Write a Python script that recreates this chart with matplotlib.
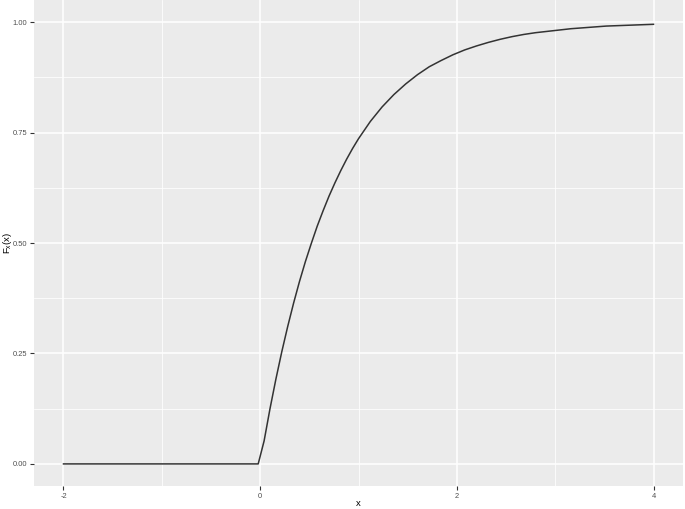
import numpy as np
import matplotlib
matplotlib.use('Agg')
import matplotlib.pyplot as plt
from matplotlib.ticker import MultipleLocator

plt.rcParams['font.family'] = ['Liberation Sans', 'DejaVu Sans']

# values (x, F_x(x))
x_vals = [-2.0, -0.02, 0.04, 0.10, 0.16, 0.22, 0.28, 0.34, 0.40, 0.46, 0.52, 0.58,
          0.64, 0.70, 0.76, 0.82, 0.88, 0.94, 1.00, 1.12, 1.24, 1.36, 1.48, 1.60,
          1.72, 1.84, 1.96, 2.08, 2.20, 2.32, 2.44, 2.56, 2.68, 2.80, 2.92, 3.04,
          3.16, 3.28, 3.40, 3.52, 3.64, 3.76, 3.88, 4.00]
f_vals = [0.0, 0.0, 0.052, 0.125, 0.192, 0.254, 0.311, 0.364, 0.413, 0.458, 0.499, 0.538,
          0.573, 0.606, 0.636, 0.664, 0.690, 0.714, 0.736, 0.775, 0.808, 0.836, 0.860, 0.881,
          0.899, 0.913, 0.926, 0.937, 0.946, 0.954, 0.961, 0.967, 0.972, 0.976, 0.979, 0.982,
          0.985, 0.987, 0.989, 0.991, 0.992, 0.993, 0.994, 0.995]

x_ticks = [-2, 0, 2, 4]
y_ticks = [0.0, 0.25, 0.5, 0.75, 1.0]
y_ticklabels = ['0.00', '0.25', '0.50', '0.75', '1.00']

fig = plt.figure(figsize=(6.85, 5.09), dpi=100)
ax = fig.add_axes([34/685, 23/509, 649/685, 486/509])
ax.set_facecolor('#EBEBEB')

ax.plot(x_vals, f_vals, color='#333333', lw=1.1, zorder=3)

ax.set_xlim(-2.3, 4.3)
ax.set_ylim(-0.05, 1.05)
ax.set_xticks(x_ticks)
ax.set_xticklabels([str(t) for t in x_ticks])
ax.set_yticks(y_ticks)
ax.set_yticklabels(y_ticklabels)
ax.xaxis.set_minor_locator(MultipleLocator(1))
ax.yaxis.set_minor_locator(MultipleLocator(0.125))

ax.grid(which='major', color='white', lw=1.1, zorder=1)
ax.grid(which='minor', color='white', lw=0.55, zorder=1)
ax.set_axisbelow(True)
for s in ax.spines.values():
    s.set_visible(False)

ax.tick_params(which='major', length=2.75, width=0.8, color='#333333',
               labelsize=5.4, labelcolor='#4D4D4D', pad=2)
ax.tick_params(which='minor', length=0)

ax.set_xlabel('x', fontsize=6.8, color='black')
ax.set_ylabel(r'$\mathregular{F_x(x)}$', fontsize=6.8, color='black')
# put the axis titles where the reference has them
ax.xaxis.set_label_coords(0.5, -0.037)
ax.yaxis.set_label_coords(-0.041, 0.5)
ax.xaxis.label.set_va('center')
ax.yaxis.label.set_va('center')

fig.savefig('out.png', dpi=100)
